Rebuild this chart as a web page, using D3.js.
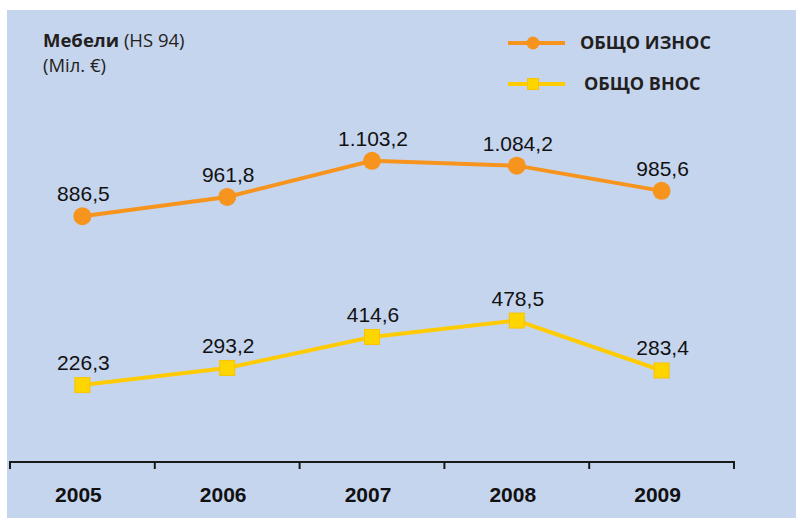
<!DOCTYPE html>
<html>
<head>
<meta charset="utf-8">
<script src="https://cdn.jsdelivr.net/npm/d3@7"></script>
<style>
    html, body { margin: 0; padding: 0; background: #ffffff; }
    svg { display: block; }
</style>
</head>
<body>
<svg id="chart" width="796" height="521"></svg>
<script>
// ======================
// DATA
// ======================

const years = ["2005", "2006", "2007", "2008", "2009"];
const exportValues = [886.5, 961.8, 1103.2, 1084.2, 985.6];   // ОБЩО ИЗНОС
const importValues = [226.3, 293.2, 414.6, 478.5, 283.4];     // ОБЩО ВНОС
const valueLabels = {
    export: ["886,5", "961,8", "1.103,2", "1.084,2", "985,6"],
    import: ["226,3", "293,2", "414,6", "478,5", "283,4"]
};
const legendNames = ["ОБЩО ИЗНОС", "ОБЩО ВНОС"];

const orange = "#f7941d";
const yellow = "#ffcb05";

// ======================
// SETUP
// ======================

const svg = d3.select("#chart");

// panel background
svg.append("rect")
    .attr("x", 7)
    .attr("y", 10)
    .attr("width", 789)
    .attr("height", 508)
    .attr("fill", "#c6d5ee");

const xScale = d3.scaleBand()
    .domain(years)
    .range([10, 734])
    .padding(0);

const yScale = d3.scaleLinear()
    .domain([0, 1200])
    .range([443, 136]);

const cx = d => xScale(d) + xScale.bandwidth() / 2;

// x axis: line with ticks at band edges
const axisY = 462;
const axisG = svg.append("g");
axisG.append("line")
    .attr("x1", xScale.range()[0])
    .attr("x2", xScale.range()[1])
    .attr("y1", axisY)
    .attr("y2", axisY)
    .attr("stroke", "#1a1a1a")
    .attr("stroke-width", 2);

const tickXs = years.map(d => xScale(d)).concat([xScale.range()[1]]);
axisG.selectAll(".tick")
    .data(tickXs)
    .enter()
    .append("line")
    .attr("x1", d => d)
    .attr("x2", d => d)
    .attr("y1", axisY - 1)
    .attr("y2", axisY + 7)
    .attr("stroke", "#1a1a1a")
    .attr("stroke-width", 2);

axisG.selectAll(".year")
    .data(years)
    .enter()
    .append("text")
    .attr("x", d => cx(d) - 4)
    .attr("y", 502)
    .attr("text-anchor", "middle")
    .attr("font-family", "Liberation Sans, Arial, sans-serif")
    .attr("font-weight", "bold")
    .attr("font-size", 21)
    .attr("fill", "#111")
    .text(d => d);

// ======================
// SERIES
// ======================

const line = d3.line()
    .x((d, i) => cx(years[i]))
    .y(d => yScale(d));

svg.append("path")
    .datum(exportValues)
    .attr("d", line)
    .attr("fill", "none")
    .attr("stroke", orange)
    .attr("stroke-width", 4);

svg.append("path")
    .datum(importValues)
    .attr("d", line)
    .attr("fill", "none")
    .attr("stroke", yellow)
    .attr("stroke-width", 4);

svg.selectAll(".dot")
    .data(exportValues)
    .enter()
    .append("circle")
    .attr("cx", (d, i) => cx(years[i]))
    .attr("cy", d => yScale(d))
    .attr("r", 9)
    .attr("fill", orange);

svg.selectAll(".sq")
    .data(importValues)
    .enter()
    .append("rect")
    .attr("x", (d, i) => cx(years[i]) - 7.5)
    .attr("y", d => yScale(d) - 7.5)
    .attr("width", 15)
    .attr("height", 15)
    .attr("fill", "#ffd500")
    .attr("stroke", "#f6c400")
    .attr("stroke-width", 1);

// value labels
function addLabels(values, labels) {
    svg.append("g").selectAll("text")
        .data(values)
        .enter()
        .append("text")
        .attr("x", (d, i) => cx(years[i]) + 1)
        .attr("y", d => yScale(d) - 15)
        .attr("text-anchor", "middle")
        .attr("font-family", "Liberation Sans, Arial, sans-serif")
        .attr("font-size", 21)
        .attr("fill", "#111")
        .text((d, i) => labels[i]);
}
addLabels(exportValues, valueLabels.export);
addLabels(importValues, valueLabels.import);

// ======================
// TITLE
// ======================

const title = svg.append("text")
    .attr("x", 43)
    .attr("y", 47)
    .attr("font-family", "Open Sans, Noto Sans, sans-serif")
    .attr("font-size", 18.5)
    .attr("fill", "#231f20");
title.append("tspan").attr("font-weight", "bold").text("Мебели");
title.append("tspan").text(" (HS 94)");

svg.append("text")
    .attr("x", 43)
    .attr("y", 72)
    .attr("font-family", "Open Sans, Noto Sans, sans-serif")
    .attr("font-size", 18.5)
    .attr("fill", "#231f20")
    .text("(Міл. €)");

// ======================
// LEGEND
// ======================

const legend = svg.append("g");

legend.append("line")
    .attr("x1", 508).attr("x2", 565)
    .attr("y1", 43).attr("y2", 43)
    .attr("stroke", orange).attr("stroke-width", 4);
legend.append("circle")
    .attr("cx", 533).attr("cy", 43).attr("r", 6.5)
    .attr("fill", orange);
legend.append("text")
    .attr("x", 580).attr("y", 49)
    .attr("font-family", "Open Sans, Noto Sans, sans-serif")
    .attr("font-weight", "bold")
    .attr("font-size", 18)
    .attr("fill", "#231f20")
    .text(legendNames[0]);

legend.append("line")
    .attr("x1", 508).attr("x2", 565)
    .attr("y1", 84).attr("y2", 84)
    .attr("stroke", yellow).attr("stroke-width", 4);
legend.append("rect")
    .attr("x", 527.5).attr("y", 78.5).attr("width", 11).attr("height", 11)
    .attr("fill", "#ffd500").attr("stroke", "#f6c400");
legend.append("text")
    .attr("x", 584).attr("y", 90)
    .attr("font-family", "Open Sans, Noto Sans, sans-serif")
    .attr("font-weight", "bold")
    .attr("font-size", 18)
    .attr("fill", "#231f20")
    .text(legendNames[1]);
</script>
</body>
</html>
